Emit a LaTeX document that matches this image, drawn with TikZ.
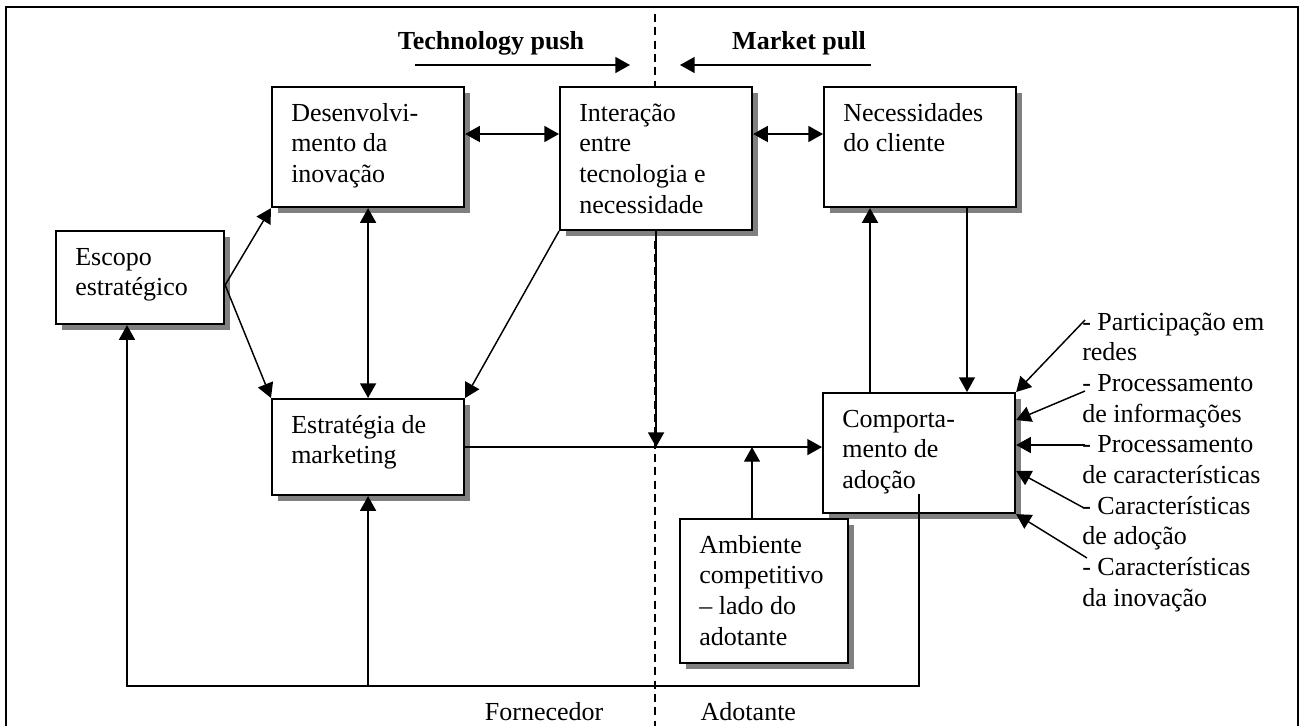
\documentclass[tikz,border=0pt]{standalone}
\usepackage{fontspec}
\setmainfont{Liberation Serif}
\usetikzlibrary{arrows.meta,calc,shadows}
\definecolor{shadowgray}{HTML}{808080}
% multi-line box text whose baseline is the first line
\newcommand{\boxlines}[1]{\begin{tabular}[t]{@{}l@{}}#1\end{tabular}}
\begin{document}
\begin{tikzpicture}[x=0.75pt,y=-0.75pt,
  font=\fontsize{19.5pt}{23pt}\selectfont,
  blockbox/.style={draw, line width=1.6pt, fill=white, anchor=north west, inner sep=0pt,
    drop shadow={shadow xshift=4.5pt, shadow yshift=-4.5pt, fill=shadowgray, opacity=1}},
  blocktext/.style={anchor=base west, inner sep=0pt},
  head/.style={font=\bfseries\fontsize{19.5pt}{23pt}\selectfont},
  link/.style={line width=1.1pt, -{Triangle[length=11pt,width=12pt]}},
  link2/.style={line width=1.1pt, {Triangle[length=11pt,width=12pt]}-{Triangle[length=11pt,width=12pt]}},
  divider/.style={line width=1.1pt, dash pattern=on 6pt off 4pt},
]
\useasboundingbox (0,0) rectangle (1306,725);
\clip (0,0) rectangle (1306,725);

% outer frame
\draw[line width=1.5pt] (6,7) rectangle (1298,740);

% supplier / adopter divider
\coordinate (dtop) at (655,14);
\coordinate (dbot) at (655,730);
\draw[divider] (dtop) -- (dbot);

% headings and their arrows
\node[head] (tp) at (491,43) {Technology push};
\node[head] (mp) at (799,43) {Market pull};
\coordinate (tpa) at (415,65);
\coordinate (tpb) at (630,65);
\coordinate (mpa) at (871,65);
\coordinate (mpb) at (680,65);
\draw[link] (tpa) -- (tpb);
\draw[link] (mpa) -- (mpb);

% blocks
\node[blockbox, minimum width=126pt, minimum height=69.75pt] (esc) at (55,230) {};
\node[blockbox, minimum width=144pt, minimum height=90pt] (dev) at (271,86) {};
\node[blockbox, minimum width=144pt, minimum height=107.25pt] (int) at (559,86) {};
\node[blockbox, minimum width=144pt, minimum height=90pt] (nec) at (823,86) {};
\node[blockbox, minimum width=144pt, minimum height=72pt] (est) at (271,398) {};
\node[blockbox, minimum width=144pt, minimum height=90pt] (com) at (822,392) {};
\node[blockbox, minimum width=126pt, minimum height=108pt] (amb) at (679,518) {};

\node[blocktext] (esct) at (75,265) {\boxlines{Escopo\\estratégico}};
\node[blocktext] (devt) at (291,121) {\boxlines{Desenvolvi-\\mento da\\inovação}};
\node[blocktext] (intt) at (579,121) {\boxlines{Interação\\entre\\tecnologia e\\necessidade}};
\node[blocktext] (nect) at (843,121) {\boxlines{Necessidades\\do cliente}};
\node[blocktext] (estt) at (291,433) {\boxlines{Estratégia de\\marketing}};
\node[blocktext] (comt) at (842,427) {\boxlines{Comporta-\\mento de\\adoção}};
\node[blocktext] (ambt) at (699,553) {\boxlines{Ambiente\\competitivo\\– lado do\\adotante}};

% links along the top row
\draw[link2] ($(dev.north east)+(0,48)$) -- ($(int.north west)+(0,48)$);
\draw[link2] ($(int.north east)+(0,48)$) -- ($(nec.north west)+(0,48)$);

% strategic scope
\coordinate (escout) at ($(esc.north east)+(0,55)$);
\draw[link] (escout) -- (dev.south west);
\draw[link] (escout) -- (est.north west);
\draw[link2] (dev.south) -- (est.north);
\draw[link] (int.south west) -- (est.north east);

% marketing to adoption
\coordinate (junc) at (int.south |- est.east);
\draw[link] (int.south) -- (junc);
\draw[link] (est.east) -- (est.east -| com.west);
\coordinate (ambtop) at ($(amb.north west)+(73,0)$);
\draw[link] (ambtop) -- (ambtop |- est.east);

% customer needs and adoption
\coordinate (comup) at ($(com.north west)+(48,0)$);
\draw[link] (comup) -- (comup |- nec.south);
\coordinate (necdn) at ($(nec.south west)+(144,0)$);
\draw[link] (necdn) -- (necdn |- com.north);

% feedback to supplier side
\coordinate (fbs) at (919,494);
\coordinate (fbc) at (919,686);
\coordinate (fbl) at (127,686);
\draw[link] (fbs) -- (fbc) -- (fbl) -- (fbl |- esc.south);
\draw[link] (est.south |- fbl) -- (est.south);

% adoption factors
\node[blocktext] (labs) at (1082,330) {\boxlines{- Participação em\\redes\\- Processamento\\de informações\\- Processamento\\de características\\- Características\\de adoção\\- Características\\da inovação}};
\coordinate (f1) at (1085,320);
\coordinate (f2) at (1085,391);
\coordinate (f3) at (1085,445);
\coordinate (f4) at (1084,508);
\coordinate (f5) at (1087,558);
\draw[link] (f1) -- (com.north east);
\draw[link] (f2) -- ($(com.north east)+(0,28)$);
\draw[link] (f3) -- ($(com.north east)+(0,53)$);
\draw[link] (f4) -- ($(com.north east)+(0,79)$);
\draw[link] (f5) -- (com.south east);

% sides
\node[anchor=base east] (forn) at (608,720) {Fornecedor};
\node[anchor=base west] (adot) at (696,720) {Adotante};
\end{tikzpicture}
\end{document}
